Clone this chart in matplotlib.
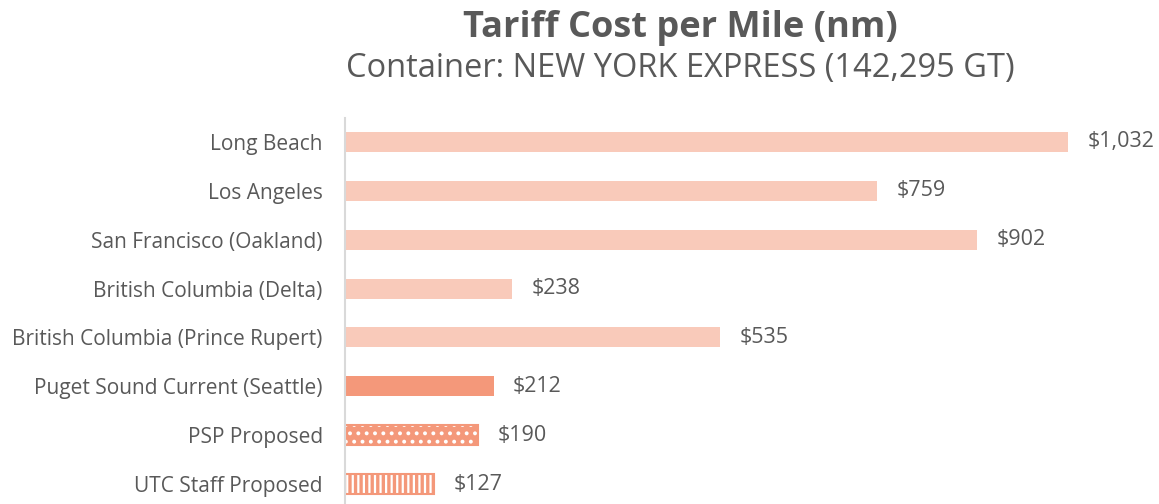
import matplotlib
matplotlib.use("Agg")
import matplotlib.pyplot as plt

ports = ["Long Beach", "Los Angeles", "San Francisco (Oakland)",
         "British Columbia (Delta)", "British Columbia (Prince Rupert)",
         "Puget Sound Current (Seattle)", "PSP Proposed", "UTC Staff Proposed"]
cost = [1032, 759, 902, 238, 535, 212, 190, 127]

LIGHT, DARK, GREY = "#F9CABA", "#F4987A", "#595959"
plt.rcParams["font.family"] = ["Open Sans", "DejaVu Sans"]
plt.rcParams["hatch.linewidth"] = 1.6

fig = plt.figure(figsize=(11.59, 5.04), dpi=100)
ax = fig.add_axes([345 / 1159, -4.5 / 504, 1 - 345 / 1159, (504 - 117.5 + 4.5) / 504])

y = list(range(len(ports)))
h = 0.41
ax.barh(y[:5], cost[:5], height=h, color=LIGHT, linewidth=0)
ax.barh(y[5], cost[5], height=h, color=DARK, linewidth=0)
# patterned bars: white hatch over orange, then an orange outline
ax.barh(y[6], cost[6], height=h, color=DARK, edgecolor="white", hatch="..", linewidth=0)
ax.barh(y[7], cost[7], height=h, color=DARK, edgecolor="white", hatch="|||", linewidth=0)
ax.barh(y[6:], cost[6:], height=h, color="none", edgecolor=DARK, linewidth=1.5)

for yi, v in zip(y, cost):
    ax.annotate(f"${v:,}", (v, yi), xytext=(14, 0), textcoords="offset points",
                va="center", ha="left", fontsize=15.5, color=GREY)

ax.set_xlim(0, (1159 - 345) / 0.7006)
ax.set_ylim(7.5, -0.5)
ax.set_yticks(y)
ax.set_yticklabels(ports, fontsize=15, color=GREY)
ax.tick_params(axis="y", length=0, pad=16)
ax.set_xticks([])
for s in ["top", "right", "bottom"]:
    ax.spines[s].set_visible(False)
ax.spines["left"].set_color("#D9D9D9")
ax.spines["left"].set_linewidth(1.5)

fig.text(680 / 1159, 1 - 28 / 504, "Tariff Cost per Mile (nm)", ha="center", va="center",
         fontsize=26, fontweight="bold", color=GREY)
fig.text(680 / 1159, 1 - 68 / 504, "Container: NEW YORK EXPRESS (142,295 GT)", ha="center",
         va="center", fontsize=23.5, color=GREY)

fig.savefig("out.png", dpi=100)
